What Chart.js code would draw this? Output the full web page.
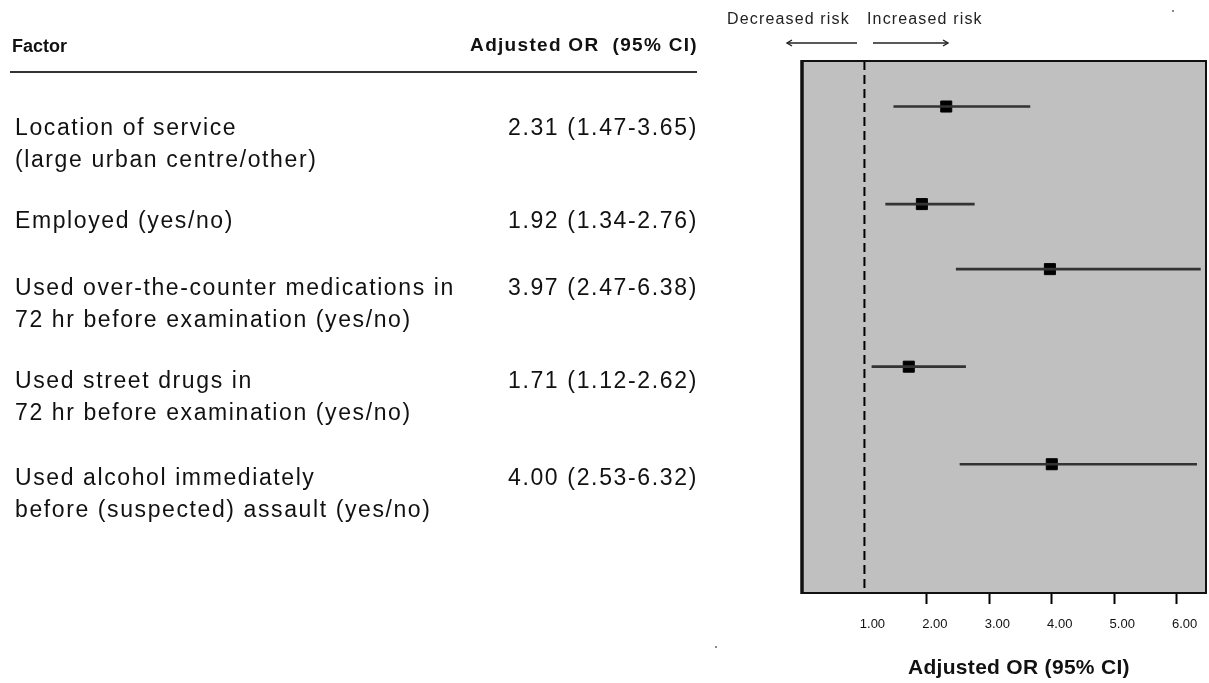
<!DOCTYPE html>
<html>
<head>
<meta charset="utf-8">
<script src="https://cdn.jsdelivr.net/npm/chart.js@4.4.1/dist/chart.umd.min.js"></script>
<style>
  html, body { margin: 0; padding: 0; background: #fff; }
  body { width: 1209px; height: 683px; position: relative; overflow: hidden;
         font-family: 'Liberation Sans', Arial, sans-serif; color: #111; }
  .abs { position: absolute; white-space: nowrap; }
  .hdr { font-weight: bold; font-size: 18px; line-height: 24px; }
  .lbl { font-size: 23px; line-height: 32px; letter-spacing: 1.6px; left: 15px; }
  .or  { font-size: 23px; line-height: 32px; letter-spacing: 1.65px; right: 511px; text-align: right; }
  .risk { font-size: 16px; line-height: 20px; letter-spacing: 1.15px; color: #222; }
  .dot { position: absolute; width: 2px; height: 2px; background: #888; }
  #fig { position: absolute; left: 0; top: 0; }
</style>
</head>
<body>
<canvas id="fig" width="1209" height="683"></canvas>

<div class="abs hdr" style="left:12px; top:34px;">Factor</div>
<div class="abs hdr" style="right:511px; top:33px; font-size:19px; letter-spacing:1.3px;">Adjusted OR&nbsp; (95% CI)</div>
<div class="abs" style="left:10px; top:71px; width:687px; height:2px; background:#333;"></div>

<div id="table"></div>

<div class="abs risk" style="left:727px; top:9px;">Decreased risk</div>
<div class="abs risk" style="left:867px; top:9px;">Increased risk</div>
<svg class="abs" style="left:0; top:0;" width="1209" height="60">
  <g stroke="#222" stroke-width="1.4" fill="none">
    <line x1="787" y1="43" x2="857" y2="43"/>
    <polyline points="792,40 787,43 792,46"/>
    <line x1="873" y1="43" x2="948" y2="43"/>
    <polyline points="943,40 948,43 943,46"/>
  </g>
</svg>

<div class="abs hdr" style="left:908px; top:655px; font-size:21px; letter-spacing:0.3px;">Adjusted OR (95% CI)</div>
<div class="dot" style="left:1172px; top:10px;"></div>
<div class="dot" style="left:715px; top:646px;"></div>

<script>
// factors, one entry per row (two text lines where the reference wraps)
const factors = [
  ['Location of service', '(large urban centre/other)'],
  ['Employed (yes/no)'],
  ['Used over-the-counter medications in', '72 hr before examination (yes/no)'],
  ['Used street drugs in', '72 hr before examination (yes/no)'],
  ['Used alcohol immediately', 'before (suspected) assault (yes/no)']
];
const oddsRatio = [2.31, 1.92, 3.97, 1.71, 4.00];
const ciLow     = [1.47, 1.34, 2.47, 1.12, 2.53];
const ciHigh    = [3.65, 2.76, 6.38, 2.62, 6.32];
// row position of each factor, in text-line units from the first row
const rowPos    = [0, 3, 5, 8, 11];
const xTicks    = [1, 2, 3, 4, 5, 6];

const X_MIN = 0, X_MAX = 6.47;
const Y_MIN = -1.4, Y_MAX = 14.96;

// left-hand table text
const textTop = [111, 204, 271, 364, 461];
const table = document.getElementById('table');
factors.forEach((lines, i) => {
  const l = document.createElement('div');
  l.className = 'abs lbl';
  l.style.top = textTop[i] + 'px';
  l.innerHTML = lines.join('<br>');
  table.appendChild(l);
  const o = document.createElement('div');
  o.className = 'abs or';
  o.style.top = textTop[i] + 'px';
  o.textContent = `${oddsRatio[i].toFixed(2)} (${ciLow[i].toFixed(2)}-${ciHigh[i].toFixed(2)})`;
  table.appendChild(o);
});

const panel = {
  id: 'panel',
  beforeDraw(chart) {
    const { ctx, chartArea: a } = chart;
    ctx.save();
    ctx.fillStyle = '#c0c0c0';
    ctx.fillRect(a.left, a.top, a.right - a.left, a.bottom - a.top);
    ctx.restore();
  },
  afterDatasetsDraw(chart) {
    const { ctx, chartArea: a } = chart;
    ctx.save();
    ctx.strokeStyle = '#111';
    ctx.lineWidth = 2;
    ctx.strokeRect(a.left, a.top, a.right - a.left, a.bottom - a.top);
    ctx.lineWidth = 3.5;
    ctx.beginPath();
    ctx.moveTo(a.left, a.top - 1);
    ctx.lineTo(a.left, a.bottom + 1);
    ctx.stroke();
    ctx.restore();
  }
};

new Chart(document.getElementById('fig'), {
  data: {
    datasets: [
      {
        type: 'line',
        data: [{ x: 1, y: Y_MIN }, { x: 1, y: Y_MAX }],
        borderColor: '#000', borderWidth: 2, borderDash: [9, 5],
        pointRadius: 0
      },
      {
        type: 'bar',
        indexAxis: 'y',
        data: rowPos.map((y, i) => ({ y, x: [ciLow[i], ciHigh[i]] })),
        backgroundColor: '#333', borderWidth: 0,
        barThickness: 2, grouped: false
      },
      {
        type: 'scatter',
        data: rowPos.map((y, i) => ({ x: oddsRatio[i], y })),
        pointStyle: 'rect', pointRadius: 7.8,
        backgroundColor: '#000', borderColor: '#000', borderWidth: 1
      }
    ]
  },
  options: {
    responsive: false,
    animation: false,
    layout: { autoPadding: false, padding: { left: 802, right: 3, top: 61, bottom: 0 } },
    plugins: { legend: { display: false }, tooltip: { enabled: false } },
    scales: {
      x: {
        type: 'linear', min: X_MIN, max: X_MAX, offset: false,
        afterBuildTicks: s => { s.ticks = xTicks.map(v => ({ value: v })); },
        afterFit: s => { s.height = 90; },
        border: { display: false },
        grid: {
          drawOnChartArea: false, tickLength: 11, tickWidth: 2,
          tickColor: c => (c.tick && c.tick.value === 1) ? 'rgba(0,0,0,0)' : '#000'
        },
        ticks: {
          padding: 13, labelOffset: 8, color: '#111',
          font: { family: "'Liberation Sans'", size: 13 },
          callback: v => v.toFixed(2)
        }
      },
      y: {
        type: 'linear', min: Y_MIN, max: Y_MAX, reverse: true, offset: false,
        display: false
      }
    }
  },
  plugins: [panel]
});
</script>
</body>
</html>
